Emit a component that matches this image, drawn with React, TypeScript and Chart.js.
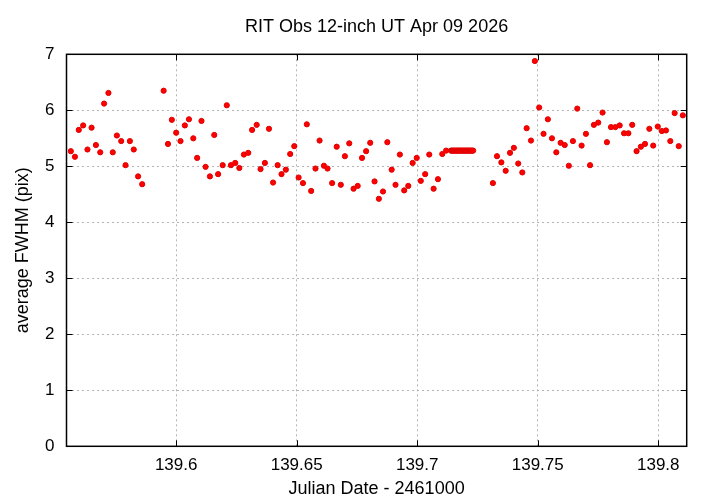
import React, { useEffect, useRef } from "react";
import Chart from "chart.js/auto";

const chartTitle = "RIT Obs 12-inch UT Apr 09 2026";
const xAxisTitle = "Julian Date - 2461000";
const yAxisTitle = "average FWHM (pix)";

const xTickValues = [139.6, 139.65, 139.7, 139.75, 139.8];
const yTickValues = [0, 1, 2, 3, 4, 5, 6, 7];

const jdValues = [
  139.5563, 139.558, 139.5596, 139.5614, 139.5632, 139.5649, 139.5667, 139.5685, 139.5701, 139.5719,
  139.5737, 139.5754, 139.5772, 139.579, 139.5808, 139.5824, 139.5842, 139.5859,
  139.5948, 139.5966, 139.5982, 139.6, 139.6018, 139.6036, 139.6053, 139.6071, 139.6087, 139.6105,
  139.6122, 139.614, 139.6158, 139.6174, 139.6193, 139.621, 139.6227, 139.6245, 139.6262,
  139.6281, 139.6299, 139.6315, 139.6334, 139.635, 139.6368, 139.6385, 139.6402, 139.6421, 139.6437,
  139.6455, 139.6473, 139.649, 139.6508, 139.6526, 139.6542, 139.656, 139.6578, 139.6595, 139.6613, 139.6628,
  139.6647, 139.6666, 139.6683, 139.67, 139.6718, 139.6736, 139.6753, 139.6771, 139.6788, 139.6805,
  139.6823, 139.6841, 139.6858, 139.6876, 139.6894, 139.691, 139.6928, 139.6946, 139.6963, 139.6981, 139.6998,
  139.7015, 139.7033, 139.705, 139.7068, 139.7086, 139.7104, 139.712,
  139.714, 139.7144, 139.7148, 139.7152, 139.7156, 139.716, 139.7164, 139.7168, 139.7172, 139.7176,
  139.718, 139.7184, 139.7188, 139.7192, 139.7196, 139.72, 139.7204, 139.7208, 139.7212, 139.7216,
  139.722, 139.7224, 139.7228, 139.7232,
  139.7314, 139.7331, 139.7349,
  139.7367, 139.7385, 139.7401, 139.7419, 139.7436, 139.7454, 139.7472, 139.7488, 139.7506, 139.7524,
  139.7542, 139.7559, 139.7577, 139.7595, 139.7612, 139.7629, 139.7646, 139.7664, 139.7682, 139.77, 139.7717,
  139.7733, 139.7751, 139.7769, 139.7787, 139.7804, 139.7822, 139.784, 139.7858, 139.7876, 139.7892,
  139.791, 139.7928, 139.7945, 139.7963, 139.7979, 139.7998, 139.8015, 139.8032, 139.805, 139.8068,
  139.8085, 139.8102,
];

const fwhmValues = [
  5.27, 5.17, 5.65, 5.73, 5.3, 5.69, 5.38, 5.25, 6.12, 6.31,
  5.25, 5.55, 5.45, 5.02, 5.45, 5.3, 4.82, 4.68,
  6.35, 5.4, 5.83, 5.6, 5.45, 5.73, 5.84, 5.5, 5.15, 5.81,
  4.99, 4.82, 5.56, 4.86, 5.02, 6.09, 5.02, 5.06, 4.97,
  5.21, 5.24, 5.65, 5.74, 4.95, 5.06, 5.67, 4.71, 5.02, 4.86,
  4.94, 5.22, 5.36, 4.8, 4.7, 5.75, 4.56, 4.96, 5.46, 5.01, 4.96,
  4.7, 5.35, 4.67, 5.18, 5.41, 4.6, 4.65, 5.15, 5.27, 5.42,
  4.73, 4.42, 4.55, 5.43, 4.94, 4.67, 5.21, 4.57, 4.65, 5.06, 5.15,
  4.74, 4.86, 5.21, 4.6, 4.77, 5.22, 5.28,
  5.28, 5.28, 5.28, 5.28, 5.28, 5.28, 5.28, 5.28, 5.28, 5.28,
  5.28, 5.28, 5.28, 5.28, 5.28, 5.28, 5.28, 5.28, 5.28, 5.28,
  5.28, 5.28, 5.28, 5.28,
  4.7, 5.18, 5.07,
  4.92, 5.24, 5.33, 5.05, 4.89, 5.68, 5.46, 6.88, 6.05, 5.58,
  5.84, 5.5, 5.25, 5.42, 5.38, 5.01, 5.45, 6.03, 5.37, 5.58, 5.02,
  5.74, 5.78, 5.96, 5.43, 5.7, 5.7, 5.73, 5.59, 5.59, 5.74,
  5.27, 5.35, 5.4, 5.67, 5.37, 5.71, 5.63, 5.64, 5.45, 5.95,
  5.36, 5.91,
];

const FONT = "'Liberation Sans', Arial, Helvetica, sans-serif";

const framePlugin = {
  id: "frame",
  afterDraw(chart: any) {
    const { ctx, chartArea } = chart;
    const { left, right, top, bottom } = chartArea;
    const xs = chart.scales.x;
    const ys = chart.scales.y;
    ctx.save();
    ctx.strokeStyle = "#000";
    ctx.lineWidth = 1;
    ctx.beginPath();
    xTickValues.forEach((v) => {
      const p = Math.round(xs.getPixelForValue(v)) + 0.5;
      ctx.moveTo(p, bottom);
      ctx.lineTo(p, bottom - 6);
      ctx.moveTo(p, top);
      ctx.lineTo(p, top + 6);
    });
    yTickValues.forEach((v) => {
      const p = Math.round(ys.getPixelForValue(v)) + 0.5;
      ctx.moveTo(left, p);
      ctx.lineTo(left + 6, p);
      ctx.moveTo(right, p);
      ctx.lineTo(right - 6, p);
    });
    ctx.stroke();
    ctx.lineWidth = 1.5;
    ctx.strokeRect(left, top, right - left, bottom - top);
    // title centred over the plot area
    ctx.fillStyle = "#000";
    ctx.font = `18px ${FONT}`;
    ctx.textAlign = "center";
    ctx.textBaseline = "middle";
    ctx.fillText(chartTitle, (left + right) / 2, 27);
    ctx.restore();
  },
};

export default function App() {
  const canvasRef = useRef<HTMLCanvasElement | null>(null);

  useEffect(() => {
    if (!canvasRef.current) return;
    const points = jdValues.map((x, i) => ({ x, y: fwhmValues[i] }));
    const chart = new Chart(canvasRef.current, {
      type: "scatter",
      data: {
        datasets: [
          {
            data: points,
            pointRadius: 2.6,
            pointBorderWidth: 1,
            pointBackgroundColor: "#ff0000",
            pointBorderColor: "#e00000",
            showLine: false,
          },
        ],
      },
      options: {
        animation: false,
        responsive: false,
        devicePixelRatio: 1,
        layout: { padding: { left: 0, right: 33.3, top: 54.3, bottom: 0 } },
        plugins: {
          legend: { display: false },
          tooltip: { enabled: false },
          title: { display: false },
        },
        scales: {
          x: {
            type: "linear",
            min: 139.5545,
            max: 139.8118,
            afterBuildTicks: (s: any) => {
              s.ticks = xTickValues.map((v) => ({ value: v }));
            },
            afterFit: (s: any) => {
              s.height = 57.7;
            },
            ticks: {
              color: "#000",
              font: { family: FONT, size: 17 },
              padding: 8.5,
              maxRotation: 0,
              callback: (v: any) => String(Number(Number(v).toFixed(3))),
            },
            grid: { color: "#b4b4b4", lineWidth: 1, drawTicks: false },
            border: { display: false, dash: [2, 3] },
            title: {
              display: true,
              text: xAxisTitle,
              color: "#000",
              font: { family: FONT, size: 18 },
              padding: { top: 0, bottom: 4.4 },
            },
          },
          y: {
            type: "linear",
            min: 0,
            max: 7,
            afterBuildTicks: (s: any) => {
              s.ticks = yTickValues.map((v) => ({ value: v }));
            },
            afterFit: (s: any) => {
              s.width = 66.5;
            },
            ticks: {
              color: "#000",
              font: { family: FONT, size: 17 },
              padding: 12,
              callback: (v: any) => String(v),
            },
            grid: { color: "#b4b4b4", lineWidth: 1, drawTicks: false },
            border: { display: false, dash: [2, 3] },
            title: {
              display: true,
              text: yAxisTitle,
              color: "#000",
              font: { family: FONT, size: 18 },
              padding: { top: 12, bottom: 0 },
            },
          },
        },
      },
      plugins: [framePlugin],
    } as any);
    return () => chart.destroy();
  }, []);

  return (
    <div style={{ position: "absolute", left: 0, top: 0, width: 720, height: 504, background: "#fff" }}>
      <canvas ref={canvasRef} width={720} height={504} />
    </div>
  );
}
